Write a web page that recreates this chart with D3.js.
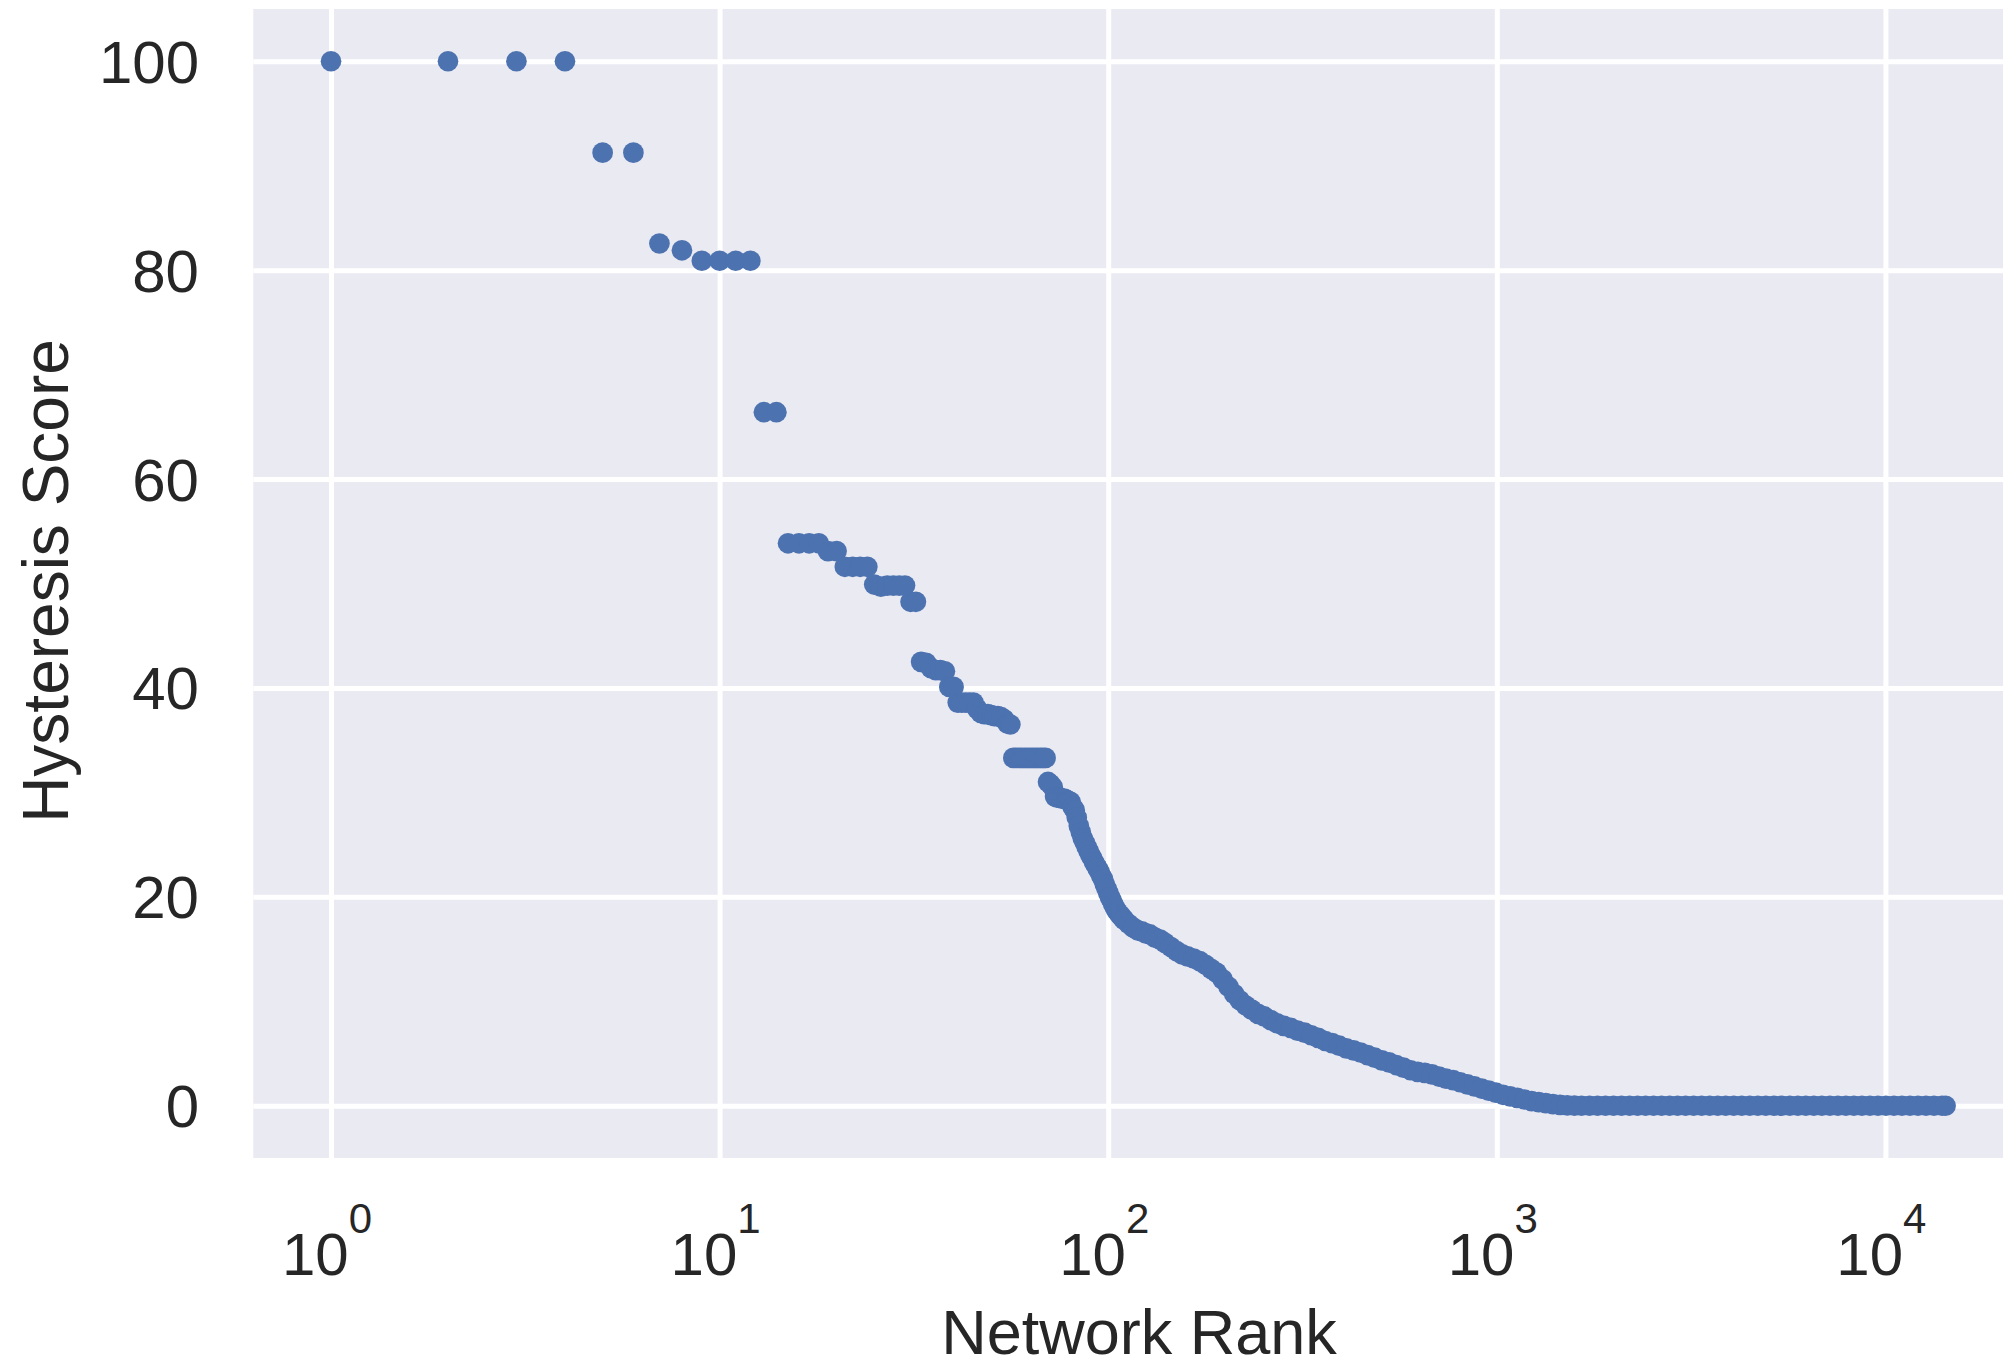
<!DOCTYPE html>
<html>
<head>
<meta charset="utf-8">
<script src="https://cdn.jsdelivr.net/npm/d3@7"></script>
<style>
  html, body { margin: 0; padding: 0; background: #fff; }
  svg { display: block; font-family: "Liberation Sans", Arial, sans-serif; }
</style>
</head>
<body>
<div id="chart"></div>
<script>
// scores for ranks 1..110, one value per rank
const headScores = [
  100, 100, 100, 100, 91.25, 91.25, 82.55, 81.9, 80.9, 80.9, 80.9, 80.9, 66.4, 66.4,
  53.85, 53.85, 53.85, 53.85, 53.1, 53.1, 51.6, 51.6, 51.6, 51.6,
  49.9, 49.7, 49.8, 49.8, 49.8, 49.8, 48.25, 48.25,
  42.5, 42.4, 41.9, 41.7, 41.7, 41.6, 40.1, 40.1,
  38.6, 38.6, 38.6, 38.6, 38.6, 38.0, 37.6, 37.5, 37.5, 37.4, 37.3, 37.3, 37.2, 37.0, 36.6, 36.5,
  33.3, 33.3, 33.3, 33.3, 33.3, 33.3, 33.3, 33.3, 33.3, 33.3, 33.3, 33.3, 33.3,
  31.0, 30.8, 30.5,
  29.6, 29.5, 29.5, 29.4, 29.4, 29.3, 29.2, 29.1,
  28.6, 28.3, 27.6, 26.8, 26.2, 25.6, 25.2, 24.8, 24.4, 24.0,
  23.7, 23.3, 23.0, 22.7, 22.4, 22.0, 21.7, 21.2, 20.8, 20.4,
  20.0, 19.7, 19.3, 19.0, 18.7, 18.5, 18.3, 18.15, 17.95, 17.8
];

// sampled ranks of the dense tail, [rank, score]
const tailPoints = [
  [113, 17.4], [116, 17.05], [119, 16.8], [122, 16.7], [125, 16.5], [128, 16.4],
  [132, 16.1], [136, 15.9], [140, 15.6], [145, 15.2], [150, 14.8], [155, 14.5],
  [160, 14.3], [166, 14.1], [172, 13.85], [178, 13.5], [184, 13.1], [190, 12.75],
  [197, 12.1], [204, 11.4], [211, 10.7], [218, 10.1], [226, 9.6], [234, 9.2],
  [243, 8.8], [252, 8.55], [262, 8.2], [272, 7.9], [283, 7.65], [295, 7.45],
  [307, 7.2], [320, 7.0], [333, 6.75], [347, 6.5], [362, 6.2], [377, 6.0],
  [393, 5.75], [410, 5.5], [428, 5.3], [446, 5.1], [465, 4.85], [485, 4.6],
  [506, 4.35], [528, 4.15], [551, 3.9], [575, 3.65], [600, 3.4], [626, 3.25],
  [653, 3.15], [681, 3.0], [710, 2.8], [740, 2.6], [772, 2.45], [805, 2.25],
  [840, 2.05], [876, 1.85], [914, 1.65], [953, 1.45], [994, 1.25], [1037, 1.05],
  [1082, 0.9], [1129, 0.75], [1178, 0.6], [1229, 0.45], [1282, 0.35], [1337, 0.25],
  [1395, 0.15], [1455, 0.08], [1518, 0.04], [1584, 0.01]
];

// ranks whose score is zero (sampled)
const zeroRanks = [
  1652, 1732, 1816, 1904, 1997, 2094, 2196, 2303, 2415, 2532, 2655, 2784, 2919,
  3061, 3210, 3366, 3530, 3702, 3882, 4071, 4269, 4477, 4695, 4923, 5162, 5413,
  5676, 5952, 6241, 6544, 6862, 7196, 7546, 7913, 8298, 8701, 9124, 9568, 10033,
  10521, 11032, 11568, 12130, 12720, 13338, 13987, 14285
];

const xTicks = [1, 10, 100, 1000, 10000];
const xTickExp = ["0", "1", "2", "3", "4"];
const yTicks = [0, 20, 40, 60, 80, 100];

const WIDTH = 2003;
const HEIGHT = 1362;
const PLOT = { left: 253.3, right: 2021.4, top: 9, bottom: 1158 };
const TEXT = "#262626";
const DOT = "#4C72B0";

const points = headScores
  .map((s, i) => ({ rank: i + 1, score: s }))
  .concat(tailPoints.map(([r, s]) => ({ rank: r, score: s })))
  .concat(zeroRanks.map((r) => ({ rank: r, score: 0 })));

const x = d3.scaleLog().domain([Math.pow(10, -0.2), Math.pow(10, 4.35)]).range([PLOT.left, PLOT.right]);
const y = d3.scaleLinear().domain([-5, 105]).range([PLOT.bottom, PLOT.top]);

const svg = d3.select("#chart")
  .append("svg")
  .attr("width", WIDTH)
  .attr("height", HEIGHT)
  .attr("viewBox", `0 0 ${WIDTH} ${HEIGHT}`);

svg.append("rect")
  .attr("x", PLOT.left)
  .attr("y", PLOT.top)
  .attr("width", PLOT.right - PLOT.left)
  .attr("height", PLOT.bottom - PLOT.top)
  .attr("fill", "#EAEAF2");

// grid
svg.append("g")
  .attr("class", "grid-x")
  .attr("transform", `translate(0,${PLOT.bottom})`)
  .call(d3.axisBottom(x).tickValues(xTicks).tickSize(-(PLOT.bottom - PLOT.top)).tickFormat(""))
  .call((g) => g.select(".domain").remove())
  .call((g) => g.selectAll("line").attr("stroke", "#fff").attr("stroke-width", 5));

svg.append("g")
  .attr("class", "grid-y")
  .attr("transform", `translate(${PLOT.left},0)`)
  .call(d3.axisLeft(y).tickValues(yTicks).tickSize(-(PLOT.right - PLOT.left)).tickFormat(""))
  .call((g) => g.select(".domain").remove())
  .call((g) => g.selectAll("line").attr("stroke", "#fff").attr("stroke-width", 5));

// points
svg.append("g")
  .attr("class", "points")
  .selectAll("circle")
  .data(points)
  .join("circle")
  .attr("cx", (d) => x(d.rank))
  .attr("cy", (d) => y(d.score))
  .attr("r", 10.35)
  .attr("fill", DOT);

// y tick labels
svg.append("g")
  .selectAll("text")
  .data(yTicks)
  .join("text")
  .attr("x", 199)
  .attr("y", (d) => y(d) + 21.5)
  .attr("text-anchor", "end")
  .attr("font-size", 60)
  .attr("fill", TEXT)
  .text((d) => d);

// x tick labels, 10 with superscript exponent
svg.append("g")
  .selectAll("text")
  .data(xTicks)
  .join("text")
  .attr("x", (d) => x(d) - 4)
  .attr("y", 1275)
  .attr("text-anchor", "middle")
  .attr("font-size", 60)
  .attr("fill", TEXT)
  .each(function (d, i) {
    const t = d3.select(this);
    t.append("tspan").text("10");
    t.append("tspan").attr("dy", -41.7).attr("font-size", 42).text(xTickExp[i]);
  });

svg.append("text")
  .attr("x", 1139)
  .attr("y", 1354)
  .attr("text-anchor", "middle")
  .attr("font-size", 63)
  .attr("fill", TEXT)
  .text("Network Rank");

svg.append("text")
  .attr("transform", "rotate(-90)")
  .attr("x", -581)
  .attr("y", 68)
  .attr("text-anchor", "middle")
  .attr("font-size", 64)
  .attr("fill", TEXT)
  .text("Hysteresis Score");
</script>
</body>
</html>
